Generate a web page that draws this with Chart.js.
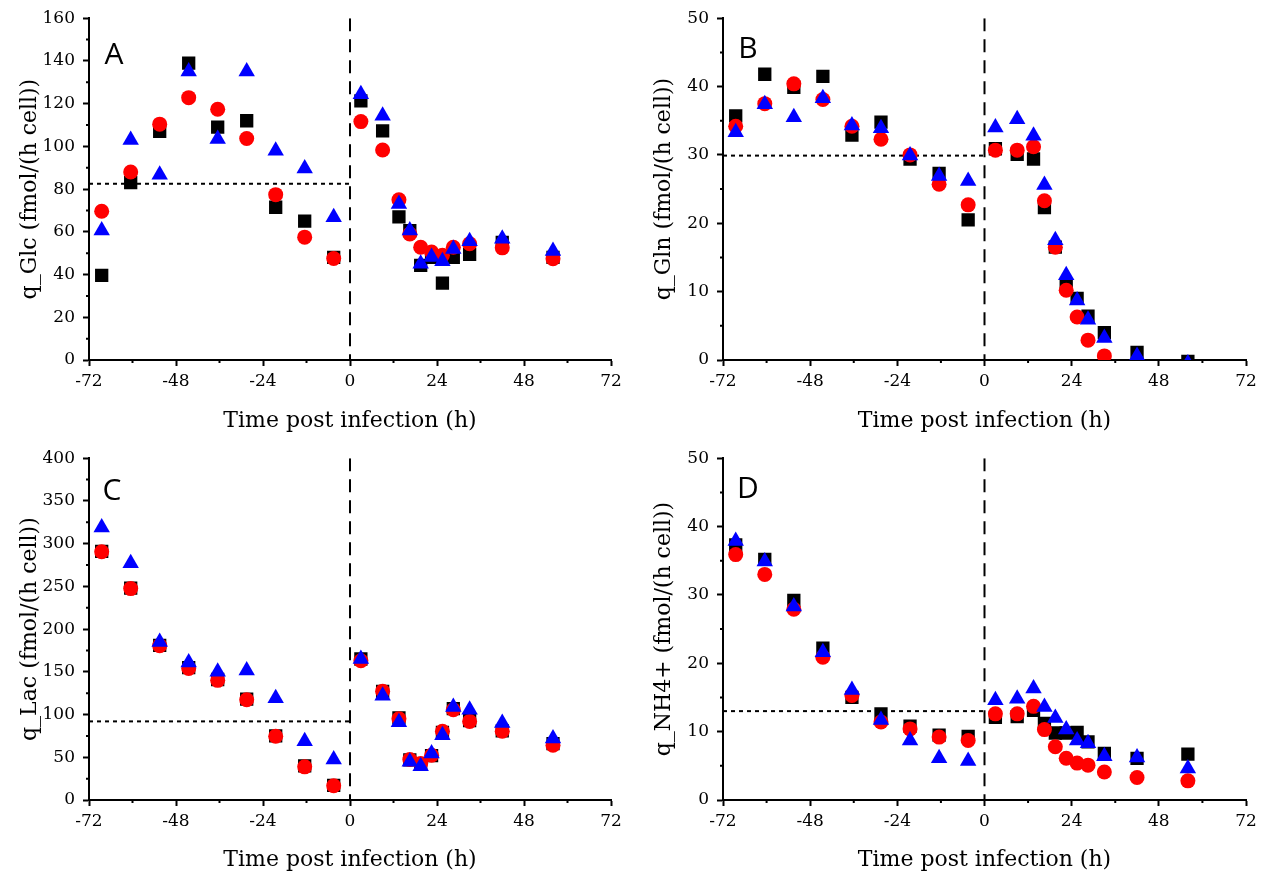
<!DOCTYPE html>
<html>
<head>
<meta charset="utf-8">
<script src="https://cdn.jsdelivr.net/npm/chart.js@4.4.1/dist/chart.umd.min.js"></script>
<style>
  html, body { margin: 0; padding: 0; background: #fff; }
  #figure { position: relative; width: 1266px; height: 879px; }
  .panel { position: absolute; }
</style>
</head>
<body>
<div id="figure">
  <div class="panel" style="left:0;top:0;width:634px;height:440px"><canvas id="panel-a"></canvas></div>
  <div class="panel" style="left:634px;top:0;width:632px;height:440px"><canvas id="panel-b"></canvas></div>
  <div class="panel" style="left:0;top:440px;width:634px;height:439px"><canvas id="panel-c"></canvas></div>
  <div class="panel" style="left:634px;top:440px;width:632px;height:439px"><canvas id="panel-d"></canvas></div>
</div>
<script>
// sampling times (h post infection)
const hours = [-68.5, -60.5, -52.5, -44.5, -36.5, -28.5, -20.5, -12.5, -4.5,
  3, 9, 13.5, 16.5, 19.5, 22.5, 25.5, 28.5, 33, 42, 56];
const xTicks = [-72, 72, 24];

// A: glucose
const glcSquare = [39.6, 83, 107, 139, 109, 112, 71.5, 65, 48, 121.3, 107.3, 67, 60.6, 44.3, 48, 36, 48, 49.4, 55, 48];
const glcCircle = [69.6, 88, 110.4, 122.8, 117.4, 103.7, 77.4, 57.5, 47.5, 111.6, 98.3, 75, 59, 52.8, 50.5, 49, 52.8, 54.4, 52.5, 47.4];
const glcTriangle = [60.6, 103, 86.7, 135, 103.5, 135, 98, 89.7, 66.8, 124.4, 114.3, 73, 60.6, 45, 48.2, 46.2, 52, 55.6, 56.7, 51];
const glcBaseline = 82.5;

// B: glutamine
const glnSquare = [35.7, 41.8, 39.9, 41.5, 32.9, 34.8, 29.4, 27.3, 20.5, 30.9, 30.1, 29.4, 22.3, 16.5, 10.9, 9, 6.4, 4, 1.1, -0.2];
const glnCircle = [34.2, 37.5, 40.4, 38.1, 34.2, 32.3, 30, 25.7, 22.7, 30.7, 30.7, 31.2, 23.3, 16.5, 10.2, 6.3, 2.9, 0.6, -0.8, null];
const glnTriangle = [33.3, 37.4, 35.5, 38.3, 34.3, 33.9, 29.9, 26.9, 26.2, 34, 35.2, 32.8, 25.6, 17.5, 12.4, 8.7, 5.9, 3.2, 0.6, -0.5];
const glnBaseline = 29.9;

// C: lactate
const lacSquare = [291, 248, 181, 155, 141, 118, 75, 40, 17, 165, 127, 96, 47, 42, 52, 79, 107, 93, 81, 66];
const lacCircle = [290.5, 247.4, 180.6, 154, 140, 117.3, 74.6, 38.8, 16.7, 163, 127.4, 95, 47.4, 42.7, 52.4, 80.4, 105.6, 92, 80.4, 64];
const lacTriangle = [319, 277, 185, 161, 150, 151.5, 119, 68.7, 47.4, 165, 122, 91, 44.7, 39.6, 54.4, 75.7, 108.7, 105.6, 90, 72];
const lacBaseline = 92;

// D: ammonium
const nh4Square = [37.3, 35.2, 29.2, 22.2, 15, 12.6, 10.8, 9.5, 9.3, 12.1, 12.2, 13.1, 11.2, 9.8, 9.8, 9.9, 8.5, 6.8, 6.1, 6.7];
const nh4Circle = [35.9, 33, 27.9, 20.9, 15.3, 11.4, 10.4, 9.2, 8.7, 12.6, 12.6, 13.7, 10.3, 7.8, 6.1, 5.4, 5.1, 4.1, 3.3, 2.8];
const nh4Triangle = [37.9, 34.9, 28.3, 21.6, 16.1, 11.7, 8.7, 6.1, 5.7, 14.6, 14.8, 16.3, 13.6, 12, 10.3, 8.7, 8.3, 6.4, 6.2, 4.6];
const nh4Baseline = 13;

const SERIF = '"DejaVu Serif", serif';

function toPoints(values) {
  return hours.map((h, i) => ({ x: h, y: values[i] })).filter((p) => p.y !== null);
}

// small ticks between the labelled ones
const minorTicks = {
  id: 'minorTicks',
  afterDraw(chart, args, opts) {
    const { ctx } = chart;
    const xs = chart.scales.x;
    const ys = chart.scales.y;
    ctx.save();
    ctx.strokeStyle = '#000';
    ctx.lineWidth = 2;
    ctx.beginPath();
    for (let v = xs.min + opts.x; v < xs.max; v += opts.x * 2) {
      const px = xs.getPixelForValue(v);
      ctx.moveTo(px, xs.top);
      ctx.lineTo(px, xs.top + 3);
    }
    for (let v = ys.min + opts.y; v < ys.max; v += opts.y * 2) {
      const py = ys.getPixelForValue(v);
      ctx.moveTo(ys.right, py);
      ctx.lineTo(ys.right - 3, py);
    }
    ctx.stroke();
    ctx.restore();
  },
};

const panelLetter = {
  id: 'panelLetter',
  afterDraw(chart, args, opts) {
    const { ctx, chartArea } = chart;
    ctx.save();
    ctx.font = '30px "Open Sans", sans-serif';
    ctx.fillStyle = '#000';
    ctx.textAlign = 'center';
    ctx.textBaseline = 'middle';
    ctx.fillText(opts.text, chartArea.left + opts.dx, chartArea.top + opts.dy);
    ctx.restore();
  },
};

function makePanel(canvasId, p) {
  const markers = [
    { data: toPoints(p.square), pointStyle: 'rect', pointRadius: 9.4, color: '#000000', order: 3 },
    { data: toPoints(p.circle), pointStyle: 'circle', pointRadius: 7.5, color: '#ff0000', order: 2 },
    { data: toPoints(p.triangle), pointStyle: 'triangle', pointRadius: 9.5, color: '#0000ff', order: 1 },
  ].map((s) => ({
    data: s.data,
    pointStyle: s.pointStyle,
    pointRadius: s.pointRadius,
    pointHoverRadius: s.pointRadius,
    backgroundColor: s.color,
    borderColor: s.color,
    borderWidth: 0,
    showLine: false,
    order: s.order,
  }));

  const refLines = [
    {
      data: [{ x: 0, y: p.yMax }, { x: 0, y: p.yMin }],
      borderDash: [13, 8],
    },
    {
      data: [{ x: xTicks[0], y: p.baseline }, { x: 0, y: p.baseline }],
      borderDash: [4, 4],
    },
  ].map((l) => ({
    data: l.data,
    showLine: true,
    borderColor: '#000',
    borderWidth: 2,
    borderDash: l.borderDash,
    pointRadius: 0,
    pointHoverRadius: 0,
    order: 4,
  }));

  return new Chart(document.getElementById(canvasId), {
    type: 'scatter',
    data: { datasets: [...markers, ...refLines] },
    plugins: [minorTicks, panelLetter],
    options: {
      responsive: true,
      maintainAspectRatio: false,
      animation: false,
      layout: { padding: { top: 17, right: p.padRight, left: 0, bottom: 0 } },
      plugins: {
        legend: { display: false },
        tooltip: { enabled: false },
        minorTicks: { x: xTicks[2] / 2, y: p.yStep / 2 },
        panelLetter: { text: p.letter, dx: p.letterDx, dy: p.letterDy },
      },
      scales: {
        x: {
          type: 'linear',
          min: xTicks[0],
          max: xTicks[1],
          afterFit: (scale) => { scale.height = p.xHeight; },
          border: { display: true, color: '#000', width: 2 },
          grid: { drawOnChartArea: false, drawTicks: true, tickLength: 6, tickWidth: 2, tickColor: '#000' },
          ticks: { stepSize: xTicks[2], color: '#000', padding: 5, font: { family: SERIF, size: 17 } },
          title: {
            display: true,
            text: 'Time post infection (h)',
            color: '#000',
            font: { family: SERIF, size: 22 },
            padding: { top: 0, bottom: 6 },
          },
        },
        y: {
          type: 'linear',
          min: p.yMin,
          max: p.yMax,
          afterFit: (scale) => { scale.width = 89; },
          border: { display: true, color: '#000', width: 2 },
          grid: { drawOnChartArea: false, drawTicks: true, tickLength: 6, tickWidth: 2, tickColor: '#000' },
          ticks: { stepSize: p.yStep, color: '#000', padding: 8, font: { family: SERIF, size: 17 } },
          title: {
            display: true,
            text: p.yTitle,
            color: '#000',
            font: { family: SERIF, size: 22 },
            padding: { top: 17, bottom: 0 },
          },
        },
      },
    },
  });
}

makePanel('panel-a', {
  letter: 'A', letterDx: 25, letterDy: 37,
  square: glcSquare, circle: glcCircle, triangle: glcTriangle, baseline: glcBaseline,
  yMin: 0, yMax: 160, yStep: 20, yTitle: 'q_Glc (fmol/(h cell))',
  padRight: 23, xHeight: 80,
});
makePanel('panel-b', {
  letter: 'B', letterDx: 25, letterDy: 31,
  square: glnSquare, circle: glnCircle, triangle: glnTriangle, baseline: glnBaseline,
  yMin: 0, yMax: 50, yStep: 10, yTitle: 'q_Gln (fmol/(h cell))',
  padRight: 20, xHeight: 80,
});
makePanel('panel-c', {
  letter: 'C', letterDx: 23, letterDy: 33,
  square: lacSquare, circle: lacCircle, triangle: lacTriangle, baseline: lacBaseline,
  yMin: 0, yMax: 400, yStep: 50, yTitle: 'q_Lac (fmol/(h cell))',
  padRight: 23, xHeight: 79,
});
makePanel('panel-d', {
  letter: 'D', letterDx: 25, letterDy: 31,
  square: nh4Square, circle: nh4Circle, triangle: nh4Triangle, baseline: nh4Baseline,
  yMin: 0, yMax: 50, yStep: 10, yTitle: 'q_NH4+ (fmol/(h cell))',
  padRight: 20, xHeight: 79,
});
</script>
</body>
</html>
